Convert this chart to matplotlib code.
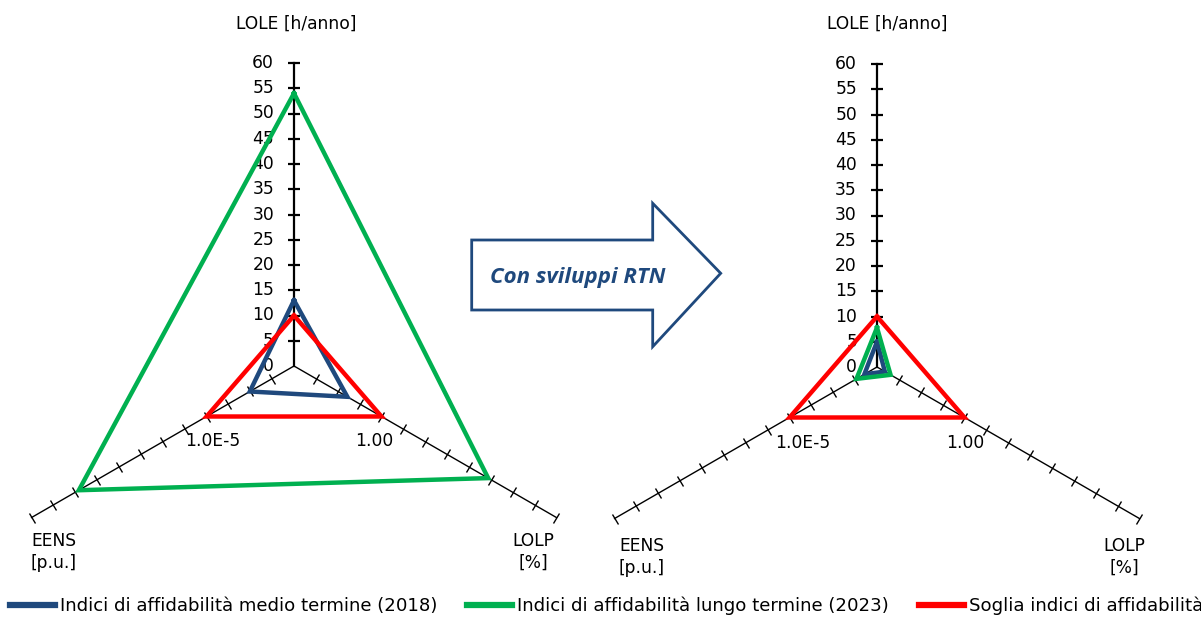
import matplotlib
matplotlib.use("Agg")
import matplotlib.pyplot as plt
import numpy as np
from matplotlib.markers import MarkerStyle
from matplotlib.transforms import Affine2D, offset_copy
from matplotlib.patches import Polygon
from matplotlib.lines import Line2D

plt.rcParams['font.family'] = ['DejaVu Sans']

# ---------------- data ----------------
axes_names = ["LOLE", "LOLP", "EENS"]          # clockwise from top
axis_angles_deg = [0, 120, 240]
r_ticks = list(range(0, 65, 5))
threshold_text = {"EENS": "1.0E-5", "LOLP": "1.00"}

series_names = ["Indici di affidabilità medio termine (2018)",
                "Indici di affidabilità lungo termine (2023)",
                "Soglia indici di affidabilità"]
series_colors = ["#1F497D", "#00B050", "#FF0000"]

# left chart: current network
left_2018 = [13.0, 12.2, 10.1]
left_2023 = [54.0, 44.4, 49.2]
left_soglia = [10.0, 20.0, 20.0]
# right chart: with RTN developments
right_2018 = [5.0, 1.8, 2.9]
right_2023 = [7.8, 3.1, 4.7]
right_soglia = [10.0, 20.0, 20.0]

arrow_text = "Con sviluppi RTN"

# ---------------- layout ----------------
W, H = 1201, 617
FS = 12.3
fig = plt.figure(figsize=(W / 100, H / 100), dpi=100)
R_PX = 303
theta = np.deg2rad(axis_angles_deg)


def px(x, y):
    return x / W, 1 - y / H


def make_ax(cx, cy):
    ax = fig.add_axes([(cx - R_PX) / W, (H - cy - R_PX) / H, 2 * R_PX / W, 2 * R_PX / H],
                      projection='polar')
    ax.set_theta_zero_location('N')
    ax.set_theta_direction(-1)
    ax.set_ylim(0, 60)
    ax.axis('off')
    return ax


def draw_radar(ax, values_list, thr_offsets):
    # spokes
    for i, th in enumerate(theta):
        lw = 1.6 if i == 0 else 1.0
        ax.plot([th, th], [0, 60], color='black', lw=lw, clip_on=False, zorder=2)
        screen_phi = 90 - axis_angles_deg[i]
        mk = MarkerStyle('_', transform=Affine2D().rotate_deg(screen_phi + 90))
        ms = 9 if i == 0 else 7.5
        ax.plot([th] * (len(r_ticks) - 1), r_ticks[1:], linestyle='none', marker=mk,
                markersize=ms, markeredgewidth=lw, color='black', clip_on=False, zorder=2)
    # radial labels
    tr = offset_copy(ax.transData, fig=fig, x=-20, y=0, units='dots')
    for r in r_ticks:
        ax.text(0, r, str(r), transform=tr, ha='right', va='center', fontsize=FS)
    # series
    for vals, col in zip(values_list, series_colors):
        v = list(vals) + [vals[0]]
        t = list(theta) + [theta[0]]
        ax.plot(t, v, color=col, lw=3.2, clip_on=False, zorder=3, solid_joinstyle='miter')
    # threshold labels
    for name, (dx, dy) in thr_offsets.items():
        i = axes_names.index(name)
        trt = offset_copy(ax.transData, fig=fig, x=dx, y=dy, units='dots')
        ax.text(theta[i], left_soglia[i], threshold_text[name], transform=trt,
                ha='center', va='center', fontsize=FS)


axL = make_ax(294, 366)
draw_radar(axL, [left_2018, left_2023, left_soglia], {"EENS": (6, -24), "LOLP": (-7, -24)})
axR = make_ax(877, 367)
draw_radar(axR, [right_2018, right_2023, right_soglia], {"EENS": (13, -25), "LOLP": (1, -25)})

# axis titles
for lole_x, eens_x, lolp_x, ydiag in [(296, 54, 533, 552), (887, 642, 1124, 557)]:
    fig.text(*px(lole_x, 24), "LOLE [h/anno]", ha='center', va='center', fontsize=FS)
    fig.text(*px(eens_x, ydiag), "EENS\n[p.u.]", ha='center', va='center', fontsize=FS,
             linespacing=1.25)
    fig.text(*px(lolp_x, ydiag), "LOLP\n[%]", ha='center', va='center', fontsize=FS,
             linespacing=1.25)

# arrow
arrow_pts = [(471.7, 240), (652.7, 240), (652.7, 203.3), (720.7, 273.3),
             (652.7, 346.7), (652.7, 310), (471.7, 310)]
poly = Polygon([px(x, y) for x, y in arrow_pts], closed=True, transform=fig.transFigure,
               facecolor='white', edgecolor='#1F497D', lw=2.0, joinstyle='miter', zorder=5)
fig.add_artist(poly)
fig.text(*px(578, 277), arrow_text, ha='center', va='center', fontsize=16,
         fontstyle='italic', fontweight='bold', color='#1F497D',
         family=['Open Sans', 'DejaVu Sans'], zorder=6)

# legend
LFS = 13.1
fpx = LFS * 100 / 72
handles = [Line2D([], [], color=c, lw=4.5) for c in series_colors]
fig.legend(handles, series_names, loc='center left', bbox_to_anchor=px(10, 606), ncol=3,
           frameon=False, handlelength=45 / fpx, handletextpad=5 / fpx,
           columnspacing=30 / fpx, fontsize=LFS, borderaxespad=0, borderpad=0)

fig.savefig("out.png", dpi=100)
